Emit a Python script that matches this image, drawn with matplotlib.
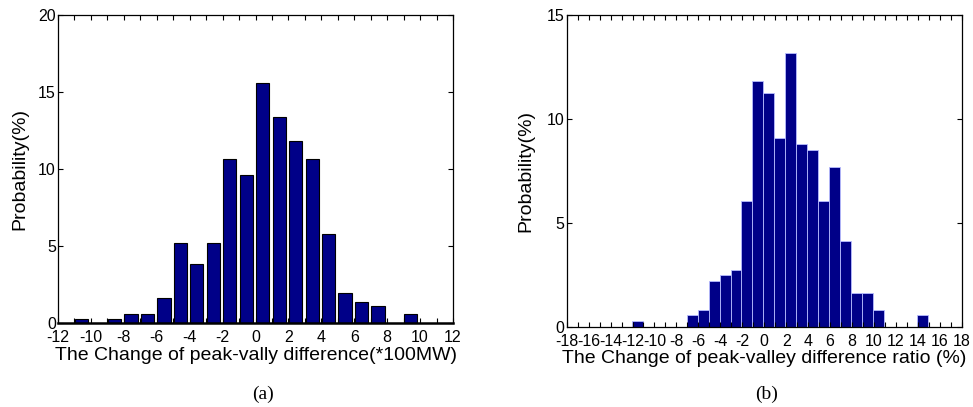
import matplotlib
matplotlib.use("Agg")
import matplotlib.pyplot as plt
import matplotlib.ticker as ticker

# ── data (probability in %) ──────────────────────────────────────────────────
left_centers = [-10.56, -9.56, -8.56, -7.56, -6.56, -5.56, -4.56, -3.56, -2.56, -1.56,
                -0.56, 0.44, 1.44, 2.44, 3.44, 4.44, 5.44, 6.44, 7.44, 8.44, 9.44]
left_values = [0.26, 0.0, 0.26, 0.56, 0.56, 1.62, 5.17, 3.83, 5.17, 10.64,
               9.6, 15.57, 13.38, 11.8, 10.64, 5.77, 1.92, 1.38, 1.10, 0.0, 0.56]

right_centers = [-11.55, -6.57, -5.57, -4.57, -3.57, -2.57, -1.57, -0.57, 0.43, 1.43,
                 2.43, 3.43, 4.43, 5.43, 6.43, 7.43, 8.43, 9.43, 10.43, 14.43]
right_values = [0.29, 0.56, 0.82, 2.21, 2.49, 2.76, 6.03, 11.82, 11.23, 9.06,
                13.17, 8.79, 8.52, 6.03, 7.68, 4.11, 1.65, 1.65, 0.82, 0.56]

left_xticks = list(range(-12, 13, 2))
right_xticks = list(range(-18, 19, 2))

left_xlabel = "The Change of peak-vally difference(*100MW)"
right_xlabel = "The Change of peak-valley difference ratio (%)"
ylabel = "Probability(%)"

BAR = "#000088"
SANS = ["Liberation Sans", "DejaVu Sans"]
SERIF = ["Liberation Serif", "DejaVu Serif"]

plt.rcParams["font.family"] = SANS
plt.rcParams["axes.unicode_minus"] = False

fig = plt.figure(figsize=(9.73, 4.07), dpi=100)
ax1 = fig.add_axes([0.0596, 0.2064, 0.406, 0.757])
ax2 = fig.add_axes([0.5824, 0.1966, 0.406, 0.767])


def _style(ax, xticks, ymax, ystep, label_x):
    ax.set_xlim(xticks[0], xticks[-1])
    ax.set_ylim(0, ymax)
    ax.set_xticks(xticks)
    ax.xaxis.set_minor_locator(ticker.MultipleLocator(1))
    ax.set_yticks(range(0, ymax + 1, ystep))
    ax.tick_params(which="both", direction="in", top=True, right=True,
                   length=3.5, width=0.8, labelsize=11.5)
    ax.tick_params(axis="x", pad=5)
    ax.tick_params(axis="y", pad=1.5)
    for sp in ax.spines.values():
        sp.set_linewidth(0.9)
    ax.set_ylabel(ylabel, fontsize=14)
    ax.yaxis.set_label_coords(label_x, 0.5)


ax1.bar(left_centers, left_values, width=0.8, color=BAR,
        edgecolor="black", linewidth=0.8)
_style(ax1, left_xticks, 20, 5, -0.076)
ax1.spines["bottom"].set_linewidth(1.8)
ax1.set_xlabel(left_xlabel, fontsize=14, labelpad=1.5)

ax2.bar(right_centers, right_values, width=1.0, color=BAR,
        edgecolor="#b8bcff", linewidth=0.6)
_style(ax2, right_xticks, 15, 5, -0.081)
ax2.set_xlabel(right_xlabel, fontsize=14, labelpad=0.5)

fig.text(0.270, 0.032, "(a)", family=SERIF, fontsize=14, ha="center", va="center")
fig.text(0.788, 0.032, "(b)", family=SERIF, fontsize=14, ha="center", va="center")

fig.savefig("out.png", dpi=100)
